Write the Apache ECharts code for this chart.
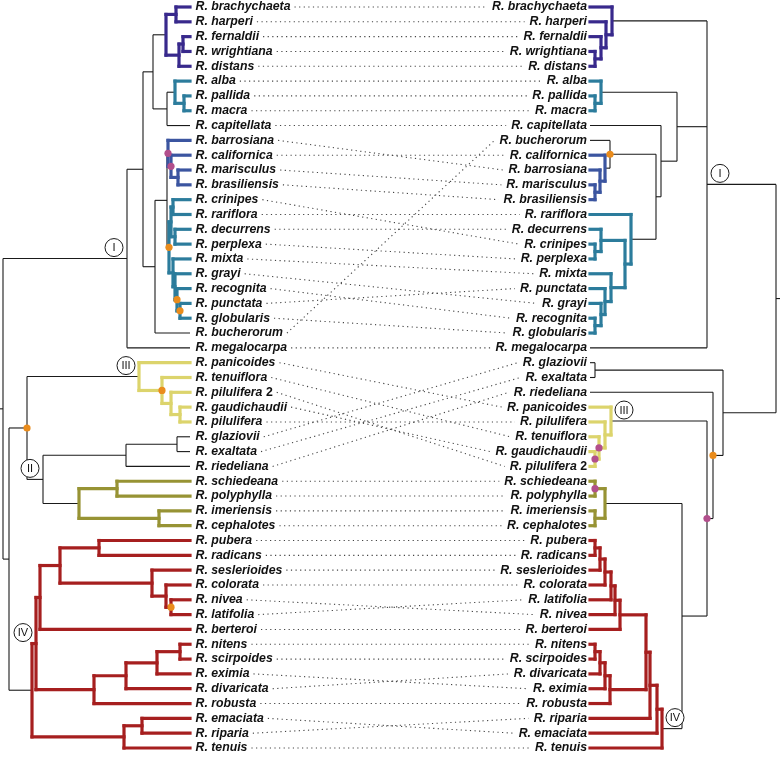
<!DOCTYPE html>
<html><head><meta charset="utf-8">
<script src="https://cdn.jsdelivr.net/npm/echarts@6/dist/echarts.min.js"></script>
<style>html,body{margin:0;padding:0;background:#fff}#c{width:780px;height:759px}</style>
</head><body><div id="c"></div>
<script>
// ---------- DATA ----------
const leftOrder = ['brachychaeta','harperi','fernaldii','wrightiana','distans','alba','pallida','macra','capitellata','barrosiana','californica','marisculus','brasiliensis','crinipes','rariflora','decurrens','perplexa','mixta','grayi','recognita','punctata','globularis','bucherorum','megalocarpa','panicoides','tenuiflora','pilulifera 2','gaudichaudii','pilulifera','glaziovii','exaltata','riedeliana','schiedeana','polyphylla','imeriensis','cephalotes','pubera','radicans','seslerioides','colorata','nivea','latifolia','berteroi','nitens','scirpoides','eximia','divaricata','robusta','emaciata','riparia','tenuis'];
const rightOrder = ['brachychaeta','harperi','fernaldii','wrightiana','distans','alba','pallida','macra','capitellata','bucherorum','californica','barrosiana','marisculus','brasiliensis','rariflora','decurrens','crinipes','perplexa','mixta','punctata','grayi','recognita','globularis','megalocarpa','glaziovii','exaltata','riedeliana','panicoides','pilulifera','tenuiflora','gaudichaudii','pilulifera 2','schiedeana','polyphylla','imeriensis','cephalotes','pubera','radicans','seslerioides','colorata','latifolia','nivea','berteroi','nitens','scirpoides','divaricata','eximia','robusta','riparia','emaciata','tenuis'];

// tree helpers: n(nodeHeight, ...children); leaves are names (height 0)
function n(age, ...kids){ return {age, kids}; }
function clade(key, node){ node.clade = key; return node; }
function dot(key, node){ node.dot = key; return node; }
function tag(label, node){ node.tag = label; return node; }

const leftTree = n(187,
  tag('I', n(63,
    n(47,
      n(37,
        clade('purple', n(24, n(14,'brachychaeta','harperi'), n(11, n(7,'fernaldii','wrightiana'), 'distans'))),
        n(23, clade('teal', n(15, 'alba', n(6,'pallida','macra'))), 'capitellata')),
      n(35,
        n(23,
          clade('blue', dot('pink', n(22, 'barrosiana', dot('pink', n(19, 'californica', n(12,'marisculus','brasiliensis')))))),
          clade('teal', dot('orange', n(21,
            n(19, n(17,'crinipes','rariflora'), n(15,'decurrens','perplexa')),
            n(17, 'mixta', n(15, 'grayi', dot('orange', n(13, 'recognita', dot('orange', n(10,'punctata','globularis')))))))))),
        'bucherorum')),
    'megalocarpa')),
  n(181,
    dot('orange', n(163,
      tag('III', clade('yellow', n(51, 'panicoides', dot('orange', n(28, 'tenuiflora', n(19, 'pilulifera 2', n(10,'gaudichaudii','pilulifera'))))))),
      tag('II', n(147,
        n(64, n(13,'glaziovii','exaltata'), 'riedeliana'),
        clade('olive', n(111, n(73,'schiedeana','polyphylla'), n(31,'imeriensis','cephalotes'))))))),
    clade('red', n(158,
      tag('IV', n(154,
        n(150, n(130, n(91,'pubera','radicans'), n(38,'seslerioides', n(24,'colorata', dot('orange', n(19,'nivea','latifolia'))))), 'berteroi'),
        n(96, n(64, n(33, n(10,'nitens','scirpoides'), 'eximia'), 'divaricata'), 'robusta'))),
      n(66, n(48,'emaciata','riparia'), 'tenuis')))));

const rightTree = n(186,
  tag('I', n(117,
    clade('purple', n(22, 'brachychaeta', n(16, 'harperi', n(11, 'fernaldii', n(5, 'wrightiana', 'distans'))))),
    n(92,
      n(87,
        clade('teal', n(11, 'alba', n(5, 'pallida', 'macra'))),
        n(71, 'capitellata',
          n(66,
            dot('orange', n(20, 'bucherorum', clade('blue', n(15, 'californica', n(10, 'barrosiana', n(5, 'marisculus', 'brasiliensis')))))),
            clade('teal', n(41, 'rariflora', n(35,
              n(11, 'decurrens', n(5, 'crinipes', 'perplexa')),
              n(21, 'mixta', n(15, 'punctata', n(11, 'grayi', n(5, 'recognita', 'globularis'))))))))))),
      'megalocarpa')),
  n(133,
    n(5, 'glaziovii', 'exaltata'),
    dot('orange', n(123, 'riedeliana',
      dot('pink', n(117,
        tag('III', clade('yellow', n(21, 'panicoides', n(15, 'pilulifera', dot('pink', n(9, 'tenuiflora', dot('pink', n(5, 'gaudichaudii', 'pilulifera 2')))))))),
        n(92,
          clade('olive', n(15, dot('pink', n(5, 'schiedeana', 'polyphylla')), n(5, 'imeriensis', 'cephalotes'))),
          tag('IV', clade('red', n(72,
            n(67, n(60, n(56,
              n(30, n(25, n(21, n(15, n(10, n(5, 'pubera', 'radicans'), 'seslerioides'), 'colorata'), 'latifolia'), 'nivea'), 'berteroi'),
              n(20, n(15, n(10, n(5, 'nitens', 'scirpoides'), 'divaricata'), 'eximia'), 'robusta')),
              'riparia'), 'emaciata'),
            'tenuis'))))))))));

// ---------- STYLE ----------
const palette = {k:'#1a1a1a', purple:'#38298c', blue:'#3b55a0', teal:'#2c7c9c', yellow:'#dcd46c', olive:'#979334', red:'#a61f1f', orange:'#ea8c1c', pink:'#b24f8c'};
const FONT_I = 'italic bold 12.3px "Liberation Sans", Arial, sans-serif';
const FONT_N = 'bold 12.3px "Liberation Sans", Arial, sans-serif';
const AX_MIN = -590, AX_MAX = 190;
const ROW_MIN = -7/14.82, ROW_MAX = ROW_MIN + 759/14.82;

const mctx = document.createElement('canvas').getContext('2d');
function tw(t, f){ mctx.font = f; return mctx.measureText(t).width; }
function parts(name){ const m = name.match(/^(.*?)( \d+)$/); return m ? ['R. '+m[1], m[2]] : ['R. '+name, '']; }
function labelWidth(name){ const p = parts(name); return tw(p[0],FONT_I) + (p[1] ? tw(p[1],FONT_N) : 0); }

function layout(tree, order){
  const segs = [], dots = [], tags = [];
  function walk(node, col){
    if (typeof node === 'string'){
      const y = order.indexOf(node);
      if (y < 0) throw new Error('missing leaf ' + node);
      return {y, age:0};
    }
    const c = node.clade || col;
    const kids = node.kids.map(k => walk(k, c));
    const ys = kids.map(k => k.y);
    const y0 = Math.min(...ys), y1 = Math.max(...ys), y = (y0 + y1) / 2;
    segs.push({v:[node.age, y0, node.age, y1], col: c || 'k'});
    kids.forEach(k => segs.push({v:[node.age, k.y, k.age, k.y], col: c || 'k'}));
    if (node.dot) dots.push({v:[node.age, y], col: node.dot});
    if (node.tag) tags.push({v:[node.age, y], text: node.tag});
    return {y, age: node.age};
  }
  const r = walk(tree, null);
  segs.push({v:[AX_MAX, r.y, r.age, r.y], col:'k'});
  segs.sort((a,b) => (a.col === 'k' ? 0 : 1) - (b.col === 'k' ? 0 : 1));
  return {segs, dots, tags};
}
const L = layout(leftTree, leftOrder);
const R = layout(rightTree, rightOrder);

function segSeries(lay, axis){
  return {type:'custom', xAxisIndex:axis, yAxisIndex:0, silent:true, z:2,
    data: lay.segs.map(s => s.v),
    renderItem(params, api){
      const p1 = api.coord([api.value(0), api.value(1)]);
      const p2 = api.coord([api.value(2), api.value(3)]);
      const col = lay.segs[params.dataIndex].col;
      const thick = col !== 'k';
      return {type:'line', shape:{x1:p1[0], y1:p1[1], x2:p2[0], y2:p2[1]},
        style:{stroke: palette[col], lineWidth: thick ? 3.2 : 1.1, lineCap: thick ? 'square' : 'butt'}};
    }};
}
function dotSeries(lay, axis){
  return {type:'custom', xAxisIndex:axis, yAxisIndex:0, silent:true, z:4,
    data: lay.dots.map(d => d.v),
    renderItem(params, api){
      const p = api.coord([api.value(0), api.value(1)]);
      return {type:'circle', shape:{cx:p[0], cy:p[1], r:3.6}, style:{fill: palette[lay.dots[params.dataIndex].col]}};
    }};
}
function tagSeries(lay, axis, sign){
  return {type:'custom', xAxisIndex:axis, yAxisIndex:0, silent:true, z:5,
    data: lay.tags.map(d => d.v),
    renderItem(params, api){
      const p = api.coord([api.value(0), api.value(1)]);
      const cx = p[0] + sign * 13, cy = p[1] - 11;
      return {type:'group', children:[
        {type:'circle', shape:{cx, cy, r:9}, style:{fill:'#fff', stroke:'#1a1a1a', lineWidth:1}},
        {type:'text', style:{text: lay.tags[params.dataIndex].text, x:cx, y:cy + 0.5, align:'center', verticalAlign:'middle', font:'11px "Liberation Sans", Arial, sans-serif', fill:'#111'}}
      ]};
    }};
}
function labelSeries(order, axis, side){
  return {type:'custom', xAxisIndex:axis, yAxisIndex:0, silent:true, z:3,
    data: order.map((nm, i) => [0, i]),
    renderItem(params, api){
      const p = api.coord([0, api.value(1)]);
      const pr = parts(order[params.dataIndex]);
      const wa = tw(pr[0], FONT_I), wb = pr[1] ? tw(pr[1], FONT_N) : 0;
      const x0 = side === 'L' ? p[0] + 5.5 : p[0] - 3 - wa - wb;
      const ch = [{type:'text', style:{text:pr[0], x:x0, y:p[1], font:FONT_I, fill:'#111', align:'left', verticalAlign:'middle'}}];
      if (pr[1]) ch.push({type:'text', style:{text:pr[1], x:x0 + wa, y:p[1], font:FONT_N, fill:'#111', align:'left', verticalAlign:'middle'}});
      return {type:'group', children: ch};
    }};
}

const chart = echarts.init(document.getElementById('c'));
const baseSeries = [
  segSeries(L, 0), segSeries(R, 1),
  dotSeries(L, 0), dotSeries(R, 1),
  tagSeries(L, 0, -1), tagSeries(R, 1, 1),
  labelSeries(leftOrder, 0, 'L'), labelSeries(rightOrder, 1, 'R')
];
chart.setOption({
  animation:false,
  grid:{left:0, right:0, top:0, bottom:0},
  xAxis:[{type:'value', min:AX_MIN, max:AX_MAX, inverse:true, show:false},
         {type:'value', min:AX_MIN, max:AX_MAX, show:false}],
  yAxis:{type:'value', min:ROW_MIN, max:ROW_MAX, inverse:true, show:false},
  series: baseSeries
});

// connectors: left label end -> right label start
const rightTipPx = chart.convertToPixel({xAxisIndex:1}, 0);
const links = leftOrder.map((nm, i) => [0, i, rightOrder.indexOf(nm)]);
baseSeries.push({type:'custom', xAxisIndex:0, yAxisIndex:0, silent:true, z:1,
  data: links,
  renderItem(params, api){
    const nm = leftOrder[params.dataIndex];
    const pl = api.coord([0, api.value(1)]);
    const pr = api.coord([0, api.value(2)]);
    const w = labelWidth(nm);
    const x1 = pl[0] + 5.5 + w + 4;
    const x2 = rightTipPx - 3 - w - 5;
    return {type:'line', shape:{x1, y1:pl[1], x2, y2:pr[1]},
      style:{stroke:'#444', lineWidth:1.1, lineDash:[1.2, 3.4]}};
  }});
chart.setOption({series: baseSeries});
</script></body></html>
